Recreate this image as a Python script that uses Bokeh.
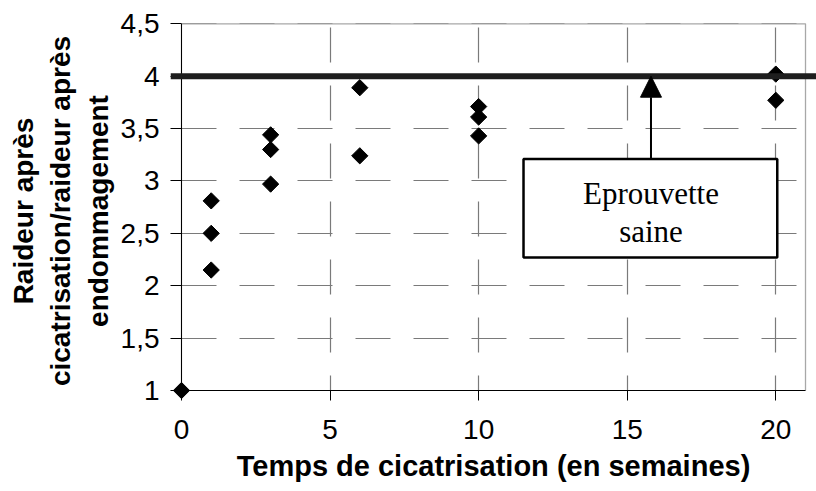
import numpy as np
from bokeh.plotting import figure
from bokeh.models import Range1d, FixedTicker, Span, Arrow, NormalHead, BoxAnnotation, Label
from bokeh.embed import file_html
from bokeh.resources import INLINE

# ---- data ----
weeks = [0, 1, 1, 1, 3, 3, 3, 6, 6, 10, 10, 10, 20, 20]
stiffness_ratio = [1.0, 2.81, 2.50, 2.15, 3.44, 3.30, 2.97, 3.89, 3.24, 3.71, 3.61, 3.43, 4.02, 3.77]
healthy_ratio = 4.0
x_ticks = [0, 5, 10, 15, 20]
y_ticks = [1, 1.5, 2, 2.5, 3, 3.5, 4, 4.5]
y_tick_labels = ["1", "1,5", "2", "2,5", "3", "3,5", "4", "4,5"]
x_title = "Temps de cicatrisation (en semaines)"
y_title = "Raideur après\ncicatrisation/raideur après\nendommagement"
note_lines = ["Eprouvette", "saine"]

# axis extents
X_MIN, X_MAX = 0, 21
Y_MIN, Y_MAX = 1, 4.5

# annotation placement (data units)
NOTE_X = 15.8
BOX_LEFT, BOX_RIGHT, BOX_BOTTOM, BOX_TOP = 11.51, 20.05, 2.27, 3.21
NOTE_Y = [2.879, 2.517]

p = figure(width=816, height=491,
           x_range=Range1d(-0.37, 21.37), y_range=Range1d(0.9046, 4.522),
           output_backend="svg", toolbar_location=None,
           min_border_left=170, min_border_right=0, min_border_top=21, min_border_bottom=91)
p.outline_line_color = None
p.background_fill_color = "white"
p.border_fill_color = "white"

# axes: drawn at the frame edges; their ticks reach inward to the real axis lines
for ax in (p.xaxis, p.yaxis):
    ax.axis_line_color = None
    ax.major_tick_line_color = "black"
    ax.major_tick_line_width = 1
    ax.major_tick_out = 0
    ax.minor_tick_line_color = None
    ax.major_label_text_font = "Liberation Sans"
    ax.major_label_text_font_size = "28px"
    ax.major_label_text_color = "black"
    ax.axis_label_text_font = "Liberation Sans"
    ax.axis_label_text_font_style = "bold"
    ax.axis_label_text_color = "black"

p.xaxis.bounds = (X_MIN, X_MAX)
p.yaxis.bounds = (Y_MIN, Y_MAX)
p.xaxis.ticker = FixedTicker(ticks=x_ticks)
p.yaxis.ticker = FixedTicker(ticks=y_ticks)
p.yaxis.major_label_overrides = {t: s for t, s in zip(y_ticks, y_tick_labels)}
p.xaxis.axis_label = x_title
p.yaxis.axis_label = y_title
p.xaxis.axis_label_text_font_size = "29px"
p.yaxis.axis_label_text_font_size = "28px"
p.yaxis.axis_label_text_line_height = 1.2
p.xaxis.major_tick_in = 10
p.yaxis.major_tick_in = 11
p.xaxis.major_label_standoff = 19
p.xaxis.axis_label_standoff = 8
p.yaxis.major_label_standoff = 11
p.yaxis.axis_label_standoff = 4

# grids
p.xgrid.ticker = FixedTicker(ticks=x_ticks[1:])
p.ygrid.ticker = FixedTicker(ticks=y_ticks[1:])
for g in (p.xgrid, p.ygrid):
    g.grid_line_color = "#7a7a7a"
    g.grid_line_width = 1.2
    g.grid_line_dash = "35 23"
p.xgrid.cross_bounds = (Y_MIN, Y_MAX)
p.ygrid.cross_bounds = (X_MIN, X_MAX)
p.xgrid.grid_line_dash_offset = 20

# plot-area border (top / right) and the axis lines through the origin
p.line([X_MIN, X_MAX, X_MAX], [Y_MAX, Y_MAX, Y_MIN], line_color="#a8a8a8", line_width=1.3)
p.line([X_MIN, X_MIN, X_MAX], [Y_MAX, Y_MIN, Y_MIN], line_color="black", line_width=1.1)

# healthy specimen reference line
p.add_layout(Span(location=healthy_ratio, dimension="width", line_color="#1e1e1e", line_width=6))

# data points (diamonds)
p.scatter(weeks, stiffness_ratio, marker="square", angle=np.pi / 4, size=11.5,
          fill_color="black", line_color="black")

# annotation box + arrow
p.add_layout(BoxAnnotation(left=BOX_LEFT, right=BOX_RIGHT, bottom=BOX_BOTTOM, top=BOX_TOP,
                           fill_color="white", fill_alpha=1.0, line_color="black",
                           line_width=2.5, line_alpha=1.0))
p.add_layout(Arrow(end=NormalHead(size=21, fill_color="black", line_color="black"),
                   x_start=NOTE_X, y_start=BOX_TOP, x_end=NOTE_X, y_end=healthy_ratio,
                   line_color="black", line_width=2))
for txt, yy in zip(note_lines, NOTE_Y):
    p.add_layout(Label(x=NOTE_X, y=yy, text=txt, text_align="center", text_baseline="alphabetic",
                       text_font="Liberation Serif", text_font_size="31px", text_color="black"))

open("out.html", "w").write(file_html(p, INLINE))
